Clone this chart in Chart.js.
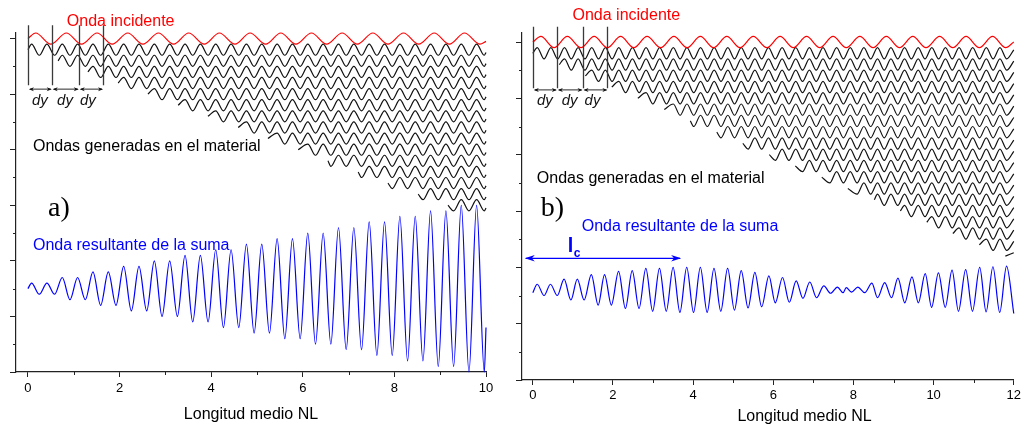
<!DOCTYPE html>
<html>
<head>
<meta charset="utf-8">
<script src="https://cdn.jsdelivr.net/npm/chart.js@4/dist/chart.umd.min.js"></script>
<style>
  html, body { margin: 0; padding: 0; background: #fff; }
  #wrap { position: relative; width: 1024px; height: 427px; overflow: hidden; }
  .panel { position: absolute; top: 0; height: 427px; }
  #panelA { left: 0; width: 505px; }
  #panelB { left: 505px; width: 519px; }
</style>
</head>
<body>
<div id="wrap">
  <div class="panel" id="panelA"><canvas id="chartA"></canvas></div>
  <div class="panel" id="panelB"><canvas id="chartB"></canvas></div>
</div>
<script>
// ---------- panel a) : phase matched ----------
const xTicksA = [0, 2, 4, 6, 8, 10];
const xMinorA = [1, 3, 5, 7, 9];
const incidentCrestXA = [0.17, 0.84, 1.51, 2.18, 2.85, 3.51, 4.18, 4.85, 5.52, 6.19, 6.86, 7.53, 8.2, 8.87, 9.53];
const incidentTroughXA = [0.5, 1.17, 1.84, 2.51, 3.18, 3.85, 4.52, 5.19, 5.85, 6.52, 7.19, 7.86, 8.53, 9.2, 9.87];
const harmonicCrestXA = [0.08, 0.415, 0.75, 1.085, 1.42, 1.755, 2.09, 2.425, 2.76, 3.095, 3.43, 3.765, 4.1, 4.435, 4.77,
  5.105, 5.44, 5.775, 6.11, 6.445, 6.78, 7.115, 7.45, 7.785, 8.12, 8.455, 8.79, 9.125, 9.46, 9.795];
const harmonicTroughXA = [0.248, 0.583, 0.918, 1.253, 1.588, 1.923, 2.258, 2.593, 2.928, 3.263, 3.598, 3.933, 4.268, 4.603, 4.938,
  5.273, 5.608, 5.943, 6.278, 6.613, 6.948, 7.283, 7.618, 7.953, 8.288, 8.623, 8.958, 9.293, 9.628, 9.963];
const rowStartA = [0, 0.66, 1.31, 1.97, 2.62, 3.28, 3.93, 4.59, 5.24, 5.9, 6.55, 7.21, 7.86, 8.52, 9.17];
const rowLevelA = [5.8, 5.6, 5.4, 5.2, 5.0, 4.8, 4.6, 4.4, 4.2, 4.0, 3.8, 3.6, 3.4, 3.2, 3.0];
const sumCrestYA = [1.6, 1.6, 1.7, 1.7, 1.8, 1.8, 1.9, 1.9, 2.0, 2.0, 2.1, 2.1, 2.2, 2.2, 2.3,
  2.3, 2.4, 2.4, 2.5, 2.5, 2.6, 2.6, 2.7, 2.7, 2.8, 2.8, 2.9, 2.9, 3.0, 3.0];
const sumTroughYA = [1.4, 1.4, 1.3, 1.3, 1.2, 1.2, 1.1, 1.1, 1.0, 1.0, 0.9, 0.9, 0.8, 0.8, 0.7,
  0.7, 0.6, 0.6, 0.5, 0.5, 0.4, 0.4, 0.3, 0.3, 0.2, 0.2, 0.1, 0.1, 0.0, 0.0];

// ---------- panel b) : phase mismatched ----------
const xTicksB = [0, 2, 4, 6, 8, 10, 12];
const xMinorB = [1, 3, 5, 7, 9, 11];
const incidentCrestXB = [0.2, 0.86, 1.53, 2.19, 2.85, 3.52, 4.18, 4.84, 5.5, 6.17, 6.83, 7.49, 8.16, 8.82, 9.48, 10.15, 10.81, 11.47];
const incidentTroughXB = [0.53, 1.2, 1.86, 2.52, 3.19, 3.85, 4.51, 5.17, 5.84, 6.5, 7.16, 7.82, 8.49, 9.15, 9.81, 10.48, 11.14, 11.8];
const harmonicCrestXB = [0.11, 0.45, 0.79, 1.13, 1.47, 1.81, 2.145, 2.485, 2.825, 3.165, 3.505, 3.845, 4.185, 4.525, 4.865, 5.2, 5.54, 5.88,
  6.22, 6.56, 6.9, 7.24, 7.58, 7.92, 8.26, 8.6, 8.935, 9.275, 9.615, 9.955, 10.295, 10.635, 10.975, 11.315, 11.655, 11.995];
const harmonicTroughXB = [0.28, 0.62, 0.96, 1.3, 1.64, 1.978, 2.315, 2.655, 2.995, 3.335, 3.675, 4.015, 4.355, 4.695, 5.033, 5.37, 5.71, 6.05,
  6.39, 6.73, 7.07, 7.41, 7.75, 8.09, 8.43, 8.768, 9.105, 9.445, 9.785, 10.125, 10.465, 10.805, 11.145, 11.485, 11.825];
const rowStartB = [0, 0.66, 1.31, 1.97, 2.62, 3.28, 3.93, 4.59, 5.24, 5.9, 6.55, 7.21, 7.86, 8.52, 9.17, 9.83, 10.48, 11.14, 11.79];
const rowLevelB = [5.8, 5.6, 5.4, 5.2, 5.0, 4.8, 4.6, 4.4, 4.2, 4.0, 3.8, 3.6, 3.4, 3.2, 3.0, 2.8, 2.6, 2.4, 2.2];
const sumCrestXB = [0.11, 0.44, 0.78, 1.11, 1.46, 1.79, 2.14, 2.48, 2.82, 3.16, 3.5, 3.84, 4.18, 4.52, 4.86, 5.2, 5.54, 5.89,
  6.23, 6.57, 6.91, 7.26, 7.6, 7.82, 8.11, 8.46, 8.78, 9.11, 9.46, 9.79, 10.12, 10.46, 10.8, 11.15, 11.48, 11.82];
const sumCrestYB = [1.7, 1.7, 1.79, 1.79, 1.87, 1.87, 1.93, 1.94, 1.98, 1.98, 2.0, 2.0, 2.0, 1.98, 1.98, 1.94, 1.91, 1.85,
  1.82, 1.76, 1.74, 1.67, 1.65, 1.64, 1.65, 1.72, 1.73, 1.81, 1.83, 1.89, 1.9, 1.95, 1.96, 2.0, 2.01, 2.02];
const sumTroughXB = [0.28, 0.61, 0.95, 1.28, 1.63, 1.96, 2.31, 2.65, 2.99, 3.33, 3.67, 4.01, 4.35, 4.69, 5.03, 5.37, 5.71, 6.05,
  6.4, 6.74, 7.08, 7.43, 7.74, 7.95, 8.28, 8.6, 8.95, 9.28, 9.62, 9.95, 10.29, 10.62, 10.97, 11.31, 11.65];
const sumTroughYB = [1.5, 1.5, 1.42, 1.42, 1.33, 1.33, 1.27, 1.27, 1.22, 1.22, 1.2, 1.2, 1.2, 1.22, 1.24, 1.28, 1.3, 1.37,
  1.38, 1.45, 1.46, 1.54, 1.55, 1.56, 1.55, 1.46, 1.46, 1.37, 1.37, 1.29, 1.29, 1.22, 1.22, 1.21, 1.2];

const colors = { incident: '#ff0000', generated: '#111111', sum: '#0000ff', axis: '#222222', dy: '#3a3a3a' };
const SANS = '"Liberation Sans", Arial, sans-serif';
const SERIF = '"Liberation Serif", "Times New Roman", serif';
Chart.defaults.font.family = SANS;

function extrema(crestX, troughX, crestY, troughY) {
  const pts = [];
  crestX.forEach((x, i) => pts.push({ x, y: Array.isArray(crestY) ? crestY[i] : crestY }));
  troughX.forEach((x, i) => pts.push({ x, y: Array.isArray(troughY) ? troughY[i] : troughY }));
  return pts.sort((a, b) => a.x - b.x);
}

function trace(x0, y0, x1, y1, pts) {
  const inner = pts.filter(p => p.x > x0 + 0.06 && p.x < x1 - 0.03);
  return [{ x: x0, y: y0 }, ...inner, { x: x1, y: y1 }];
}

function line(data, color, width) {
  return { data, borderColor: color, borderWidth: width, clip: false, pointRadius: 0, cubicInterpolationMode: 'monotone' };
}

function buildDatasets(p) {
  const sets = [line(trace(0, 6.0, p.xEnd, p.incidentEnd,
    extrema(p.incidentCrestX, p.incidentTroughX, 6.1, 5.9)), colors.incident, 1.2)];
  p.rowStart.forEach((start, i) => {
    const level = p.rowLevel[i];
    const pts = extrema(p.harmonicCrestX, p.harmonicTroughX, level + 0.1, level - 0.1);
    sets.push(line(trace(start, level, p.xEnd, level + p.rowEndShift, pts), colors.generated, 1.2));
  });
  sets.push(line(trace(0, p.sumStart, p.xEnd, p.sumEnd,
    extrema(p.sumCrestX, p.sumTroughX, p.sumCrestY, p.sumTroughY)), colors.sum, 1.2));
  return sets;
}

function arrowHead(ctx, x, y, dir, len, half) {
  ctx.beginPath();
  ctx.moveTo(x, y);
  ctx.lineTo(x - dir * len, y - half);
  ctx.lineTo(x - dir * len * 0.7, y);
  ctx.lineTo(x - dir * len, y + half);
  ctx.closePath();
  ctx.fill();
}

function doubleArrow(ctx, x1, x2, y, color, width, len, half) {
  ctx.strokeStyle = color;
  ctx.fillStyle = color;
  ctx.lineWidth = width;
  ctx.beginPath();
  ctx.moveTo(x1 + 1, y);
  ctx.lineTo(x2 - 1, y);
  ctx.stroke();
  arrowHead(ctx, x1, y, -1, len, half);
  arrowHead(ctx, x2, y, 1, len, half);
}

function marksPlugin(p) {
  return {
    id: 'marks' + p.id,
    afterDatasetsDraw(chart) {
      const { ctx, chartArea } = chart;
      const X = v => chart.scales.x.getPixelForValue(v);
      const Y = v => chart.scales.y.getPixelForValue(v);
      ctx.save();
      // minor ticks
      ctx.strokeStyle = colors.axis;
      ctx.lineWidth = 1;
      ctx.beginPath();
      p.xMinor.forEach(v => {
        const px = Math.round(X(v)) + 0.5;
        ctx.moveTo(px, chartArea.bottom);
        ctx.lineTo(px, chartArea.bottom + 3);
      });
      p.yMinor.forEach(v => {
        const py = Math.round(Y(v)) + 0.5;
        ctx.moveTo(chartArea.left - 3, py);
        ctx.lineTo(chartArea.left, py);
      });
      ctx.stroke();
      // dy markers
      ctx.strokeStyle = colors.dy;
      ctx.lineWidth = 1.3;
      ctx.beginPath();
      p.dyLines.forEach(v => {
        const px = Math.round(X(v)) + 0.5;
        ctx.moveTo(px, Y(p.dyTop));
        ctx.lineTo(px, Y(p.dyBottom));
      });
      ctx.stroke();
      for (let i = 0; i < p.dyLines.length - 1; i++) {
        doubleArrow(ctx, X(p.dyLines[i]) + 1, X(p.dyLines[i + 1]), Y(p.dyArrowY), '#111', 0.9, 5, 2);
      }
      ctx.fillStyle = '#111';
      ctx.font = 'italic 15px ' + SANS;
      ctx.textAlign = 'center';
      ctx.textBaseline = 'alphabetic';
      p.dyLabels.forEach(v => ctx.fillText('dy', X(v), Y(p.dyLabelY)));
      // texts
      ctx.textAlign = 'left';
      p.texts.forEach(t => {
        ctx.fillStyle = t.color;
        ctx.font = t.font;
        ctx.fillText(t.text, X(t.x), Y(t.y));
      });
      // coherence length arrow
      if (p.lc) {
        doubleArrow(ctx, X(p.lc.from), X(p.lc.to), Y(p.lc.y), colors.sum, 1.2, 10, 3.2);
      }
      // axis title
      ctx.fillStyle = '#000';
      ctx.font = '16px ' + SANS;
      ctx.textAlign = 'center';
      ctx.fillText('Longitud medio NL', X(p.titleX), p.titleY);
      ctx.restore();
    }
  };
}

function buildChart(canvasId, p) {
  return new Chart(document.getElementById(canvasId), {
    type: 'line',
    data: { datasets: buildDatasets(p) },
    options: {
      responsive: true,
      maintainAspectRatio: false,
      animation: false,
      events: [],
      layout: { padding: { top: 33, right: p.padRight, left: 0, bottom: 0 } },
      plugins: { legend: { display: false }, tooltip: { enabled: false } },
      scales: {
        x: {
          type: 'linear',
          min: p.xMin,
          max: p.xEnd,
          afterBuildTicks: s => { s.ticks = p.xTicks.map(v => ({ value: v })); },
          afterFit: s => { s.height = p.xAxisHeight; },
          grid: { drawOnChartArea: false, tickLength: 5, tickColor: colors.axis, tickWidth: 1 },
          border: { color: colors.axis, width: 1.2 },
          ticks: { color: '#000', font: { size: 13 }, padding: p.tickPad, maxRotation: 0, autoSkip: false }
        },
        y: {
          min: 0,
          max: p.yMax,
          afterBuildTicks: s => { s.ticks = [0, 1, 2, 3, 4, 5, 6].map(v => ({ value: v })); },
          afterFit: s => { s.width = p.yAxisWidth; },
          grid: { drawOnChartArea: false, tickLength: 6, tickColor: colors.axis, tickWidth: 1 },
          border: { color: colors.axis, width: 1.2 },
          ticks: { display: false }
        }
      }
    },
    plugins: [marksPlugin(p)]
  });
}

const yMinor = [0.5, 1.5, 2.5, 3.5, 4.5, 5.5];
const textFont = '16px ' + SANS;

buildChart('chartA', {
  id: 'A', xMin: -0.26, xEnd: 10, yMax: 6.1, padRight: 19, xAxisHeight: 55, yAxisWidth: 16, tickPad: 4,
  xTicks: xTicksA, xMinor: xMinorA, yMinor,
  incidentCrestX: incidentCrestXA, incidentTroughX: incidentTroughXA, incidentEnd: 5.95,
  harmonicCrestX: harmonicCrestXA, harmonicTroughX: harmonicTroughXA,
  rowStart: rowStartA, rowLevel: rowLevelA, rowEndShift: -0.05,
  sumCrestX: harmonicCrestXA, sumCrestY: sumCrestYA, sumTroughX: harmonicTroughXA, sumTroughY: sumTroughYA,
  sumStart: 1.5, sumEnd: 0.8,
  dyLines: [0, 0.52, 1.11, 1.64], dyTop: 6.24, dyBottom: 5.16, dyArrowY: 5.09,
  dyLabels: [0.26, 0.81, 1.31], dyLabelY: 4.81,
  texts: [
    { text: 'Onda incidente', x: 0.85, y: 6.23, color: colors.incident, font: textFont },
    { text: 'Ondas generadas en el material', x: 0.11, y: 3.97, color: '#000', font: textFont },
    { text: 'a)', x: 0.44, y: 2.81, color: '#000', font: '28px ' + SERIF },
    { text: 'Onda resultante de la suma', x: 0.11, y: 2.2, color: colors.sum, font: textFont }
  ],
  titleX: 4.87, titleY: 419
});

buildChart('chartB', {
  id: 'B', xMin: -0.27, xEnd: 12, yMax: 6.16, padRight: 8, xAxisHeight: 47, yAxisWidth: 17, tickPad: 3,
  xTicks: xTicksB, xMinor: xMinorB, yMinor,
  incidentCrestX: incidentCrestXB, incidentTroughX: incidentTroughXB, incidentEnd: 6.0,
  harmonicCrestX: harmonicCrestXB, harmonicTroughX: harmonicTroughXB,
  rowStart: rowStartB, rowLevel: rowLevelB, rowEndShift: 0.06,
  sumCrestX: sumCrestXB, sumCrestY: sumCrestYB, sumTroughX: sumTroughXB, sumTroughY: sumTroughYB,
  sumStart: 1.55, sumEnd: 1.18,
  dyLines: [0, 0.6, 1.24, 1.86], dyTop: 6.27, dyBottom: 5.18, dyArrowY: 5.15,
  dyLabels: [0.3, 0.92, 1.49], dyLabelY: 4.88,
  texts: [
    { text: 'Onda incidente', x: 0.99, y: 6.39, color: colors.incident, font: textFont },
    { text: 'Ondas generadas en el material', x: 0.1, y: 3.5, color: '#000', font: textFont },
    { text: 'b)', x: 0.2, y: 2.91, color: '#000', font: '28px ' + SERIF },
    { text: 'Onda resultante de la suma', x: 1.22, y: 2.64, color: colors.sum, font: textFont },
    { text: 'l', x: 0.87, y: 2.27, color: colors.sum, font: 'bold 20px ' + SANS },
    { text: 'c', x: 1.02, y: 2.18, color: colors.sum, font: 'bold 12px ' + SANS }
  ],
  lc: { from: -0.2, to: 3.7, y: 2.16 },
  titleX: 6.78, titleY: 421
});
</script>
</body>
</html>
